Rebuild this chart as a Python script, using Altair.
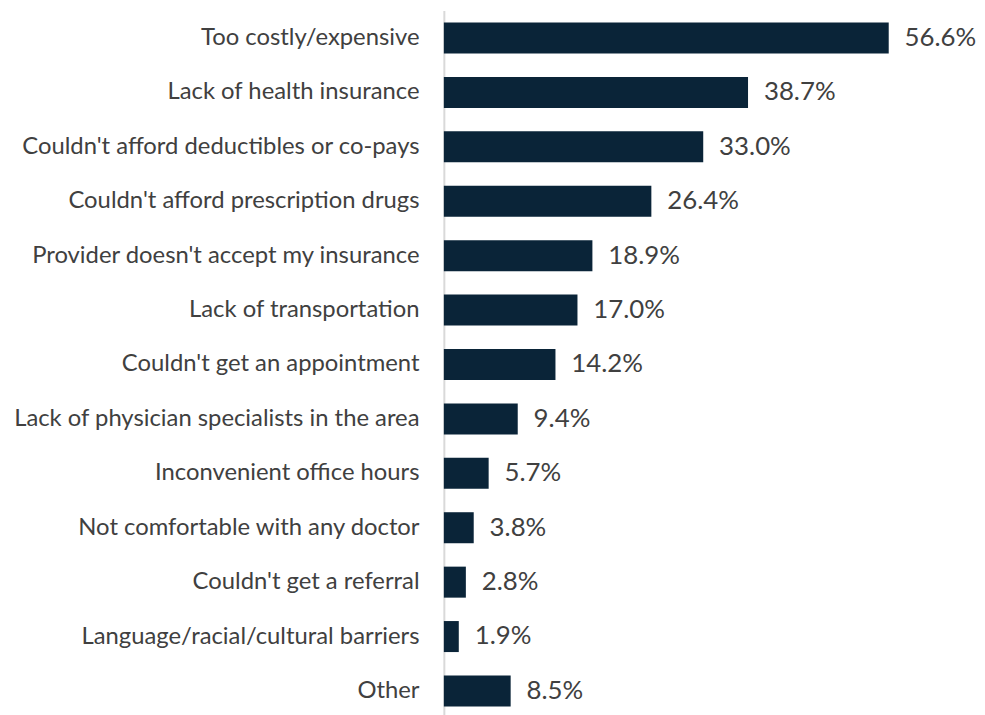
import altair as alt
import pandas as pd

categories = [
    "Too costly/expensive",
    "Lack of health insurance",
    "Couldn't afford deductibles or co-pays",
    "Couldn't afford prescription drugs",
    "Provider doesn't accept my insurance",
    "Lack of transportation",
    "Couldn't get an appointment",
    "Lack of physician specialists in the area",
    "Inconvenient office hours",
    "Not comfortable with any doctor",
    "Couldn't get a referral",
    "Language/racial/cultural barriers",
    "Other",
]
values = [56.6, 38.7, 33.0, 26.4, 18.9, 17.0, 14.2, 9.4, 5.7, 3.8, 2.8, 1.9, 8.5]

df = pd.DataFrame({"reason": categories, "pct": values})
df["label"] = [f"{v:.1f}%" for v in values]

FONT = "Lato"
y = alt.Y("reason:N", sort=categories, title=None,
          scale=alt.Scale(paddingInner=0.43, paddingOuter=0.22),
          axis=alt.Axis(labelFont=FONT, labelFontSize=24, labelColor="#404040",
                        labelPadding=25, ticks=False, domainColor="#d9d9d9",
                        domainWidth=2, labelLimit=600, minExtent=439, maxExtent=439))
x = alt.X("pct:Q", title=None, scale=alt.Scale(domain=[0, 60]), axis=None)

bars = alt.Chart(df).mark_bar(color="#0a2438").encode(x=x, y=y)
text = alt.Chart(df).mark_text(align="left", baseline="middle", dx=16, font=FONT,
                               fontSize=26, color="#404040").encode(x=x, y=y, text="label:N")

chart = (bars + text).properties(width=475, height=713, padding=0).configure_view(stroke=None)
chart.save("out.html", embed_options={"renderer": "svg", "actions": False})
